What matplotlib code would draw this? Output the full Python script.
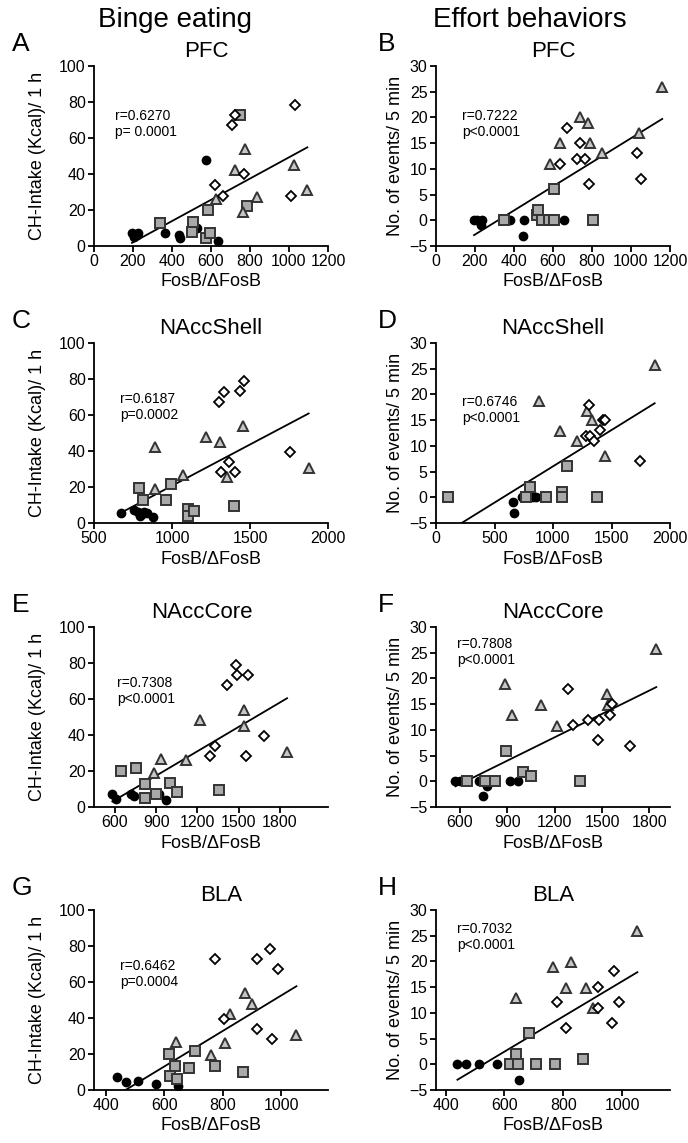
import matplotlib.pyplot as plt
import numpy as np

plt.rcParams['font.family'] = ['Liberation Sans', 'DejaVu Sans']

# ---------------- data ----------------
# A: PFC, binge eating
a_circ_x = [195, 205, 218, 228, 365, 435, 440, 530, 573, 638]
a_circ_y = [7, 5, 6, 7, 7, 6, 4.5, 10, 48, 3]
a_sq_x = [338, 500, 509, 573, 585, 593, 749, 783]
a_sq_y = [13, 8, 13.5, 4.5, 20, 7, 73, 22]
a_tri_x = [624, 721, 766, 773, 834, 1026, 1094]
a_tri_y = [26, 42, 19, 54, 27, 45, 31]
a_dia_x = [621, 663, 709, 721, 769, 1009, 1031]
a_dia_y = [34, 28, 67.5, 73, 40, 28, 78.5]

# B: PFC, effort
b_circ_x = [195, 210, 229, 238, 379, 453, 445, 655]
b_circ_y = [0, 0, -1, 0, 0, 0, -3, 0]
b_sq_x = [350, 517, 522, 545, 580, 605, 605, 803]
b_sq_y = [0, 1, 2, 0, 0, 0, 6, 0]
b_tri_x = [741, 778, 634, 790, 583, 850, 1040, 1160]
b_tri_y = [20, 19, 15, 15, 11, 13, 17, 26]
b_dia_x = [674, 738, 721, 764, 638, 784, 1031, 1052]
b_dia_y = [18, 15, 12, 12, 11, 7, 13, 8]

# C: NAccShell, binge eating
c_circ_x = [675, 754, 782, 797, 818, 840, 876, 808]
c_circ_y = [5.6, 7.1, 6.1, 3.7, 6.1, 5.6, 3.3, 4.8]
c_sq_x = [791, 812, 996, 962, 1100, 1100, 1143, 1395]
c_sq_y = [19.7, 13, 21.4, 12.7, 8, 3.9, 6.5, 9.5]
c_tri_x = [893, 893, 1070, 1220, 1310, 1453, 1353, 1876]
c_tri_y = [42.4, 18.8, 26.6, 48, 45.2, 54.1, 25.7, 30.3]
c_dia_x = [1299, 1331, 1434, 1459, 1368, 1316, 1406, 1759]
c_dia_y = [67.2, 72.7, 73.1, 78.7, 34, 28.1, 28.1, 39.3]

# D: NAccShell, effort
d_circ_x = [658, 667, 735, 829, 858]
d_circ_y = [-1, -3, 0, 0, 0]
d_sq_x = [103, 772, 800, 943, 1080, 1080, 1123, 1379]
d_sq_y = [0, 0, 2, 0, 1, 0, 6, 0]
d_tri_x = [877, 1057, 1208, 1293, 1333, 1442, 1869]
d_tri_y = [18.8, 12.8, 10.9, 16.8, 15, 8, 25.8]
d_dia_x = [1308, 1285, 1313, 1399, 1350, 1427, 1442, 1741]
d_dia_y = [18, 12, 12, 13, 11, 15, 15, 7]

# E: NAccCore, binge eating
e_circ_x = [581, 605, 714, 738, 920, 968]
e_circ_y = [7.4, 4.6, 7, 5.9, 7, 4]
e_sq_x = [646, 755, 815, 1000, 1048, 895, 815, 1360]
e_sq_y = [19.8, 21.9, 13, 13.5, 8.3, 7, 5.2, 9.6]
e_tri_x = [1542, 1542, 1217, 932, 883, 1113, 1852]
e_tri_y = [53.9, 45.2, 48.1, 26.9, 19.1, 25.9, 30.6]
e_dia_x = [1484, 1489, 1569, 1416, 1687, 1326, 1288, 1554]
e_dia_y = [78.7, 73.1, 73.1, 67.6, 39.4, 33.7, 28.3, 28.3]

# F: NAccCore, effort
f_circ_x = [572, 604, 720, 745, 772, 919, 967]
f_circ_y = [0, 0, 0, -2.8, -1, 0, 0]
f_sq_x = [646, 757, 820, 892, 999, 1051, 1360]
f_sq_y = [0, 0, 0, 5.9, 1.9, 1, 0]
f_tri_x = [883, 930, 1112, 1213, 1533, 1539, 1843]
f_tri_y = [18.9, 12.9, 14.8, 10.8, 16.9, 14.8, 25.8]
f_dia_x = [1283, 1318, 1413, 1482, 1549, 1560, 1476, 1680]
f_dia_y = [17.9, 10.9, 11.9, 11.9, 12.9, 15, 8, 6.9]

# G: BLA, binge eating
g_circ_x = [440, 470, 512, 573, 648]
g_circ_y = [7, 4.5, 5, 3.5, 2]
g_sq_x = [617, 620, 638, 645, 685, 706, 772, 868]
g_sq_y = [19.8, 8, 13.5, 6, 12, 21.7, 13.5, 10]
g_tri_x = [876, 899, 825, 640, 808, 760, 1052]
g_tri_y = [53.7, 47.8, 42.2, 26.9, 25.9, 19.4, 30.6]
g_dia_x = [774, 918, 961, 990, 806, 918, 970]
g_dia_y = [72.8, 72.8, 78.3, 67.2, 39.4, 33.9, 28.3]

# H: BLA, effort
h_circ_x = [440, 470, 512, 573, 648]
h_circ_y = [0, 0, 0, 0, -3]
h_sq_x = [685, 640, 620, 645, 707, 772, 868]
h_sq_y = [6.1, 2, 0, 0, 0, 0, 1]
h_tri_x = [640, 764, 825, 809, 877, 900, 1052]
h_tri_y = [12.9, 18.9, 19.9, 14.8, 14.8, 10.9, 25.9]
h_dia_x = [778, 809, 919, 919, 972, 990, 964]
h_dia_y = [12.1, 7, 15, 11, 18.1, 12.1, 8]

stats = ["r=0.6270\np= 0.0001", "r=0.7222\np<0.0001",
         "r=0.6187\np=0.0002", "r=0.6746\np<0.0001",
         "r=0.7308\np<0.0001", "r=0.7808\np<0.0001",
         "r=0.6462\np=0.0004", "r=0.7032\np<0.0001"]
regions = ["PFC", "PFC", "NAccShell", "NAccShell",
           "NAccCore", "NAccCore", "BLA", "BLA"]
letters = list("ABCDEFGH")

# ---------------- figure ----------------
W, H = 688, 1143
fig = plt.figure(figsize=(W / 100, H / 100), dpi=100)


def add_ax(x0, x1, y0, y1):
    return fig.add_axes([x0 / W, 1 - y1 / H, (x1 - x0) / W, (y1 - y0) / H])


cols = [(94, 328), (436, 670)]
rows = [(66, 246), (343, 523), (627, 807), (910, 1090)]

panels = [
    (a_circ_x, a_circ_y, a_sq_x, a_sq_y, a_tri_x, a_tri_y, a_dia_x, a_dia_y),
    (b_circ_x, b_circ_y, b_sq_x, b_sq_y, b_tri_x, b_tri_y, b_dia_x, b_dia_y),
    (c_circ_x, c_circ_y, c_sq_x, c_sq_y, c_tri_x, c_tri_y, c_dia_x, c_dia_y),
    (d_circ_x, d_circ_y, d_sq_x, d_sq_y, d_tri_x, d_tri_y, d_dia_x, d_dia_y),
    (e_circ_x, e_circ_y, e_sq_x, e_sq_y, e_tri_x, e_tri_y, e_dia_x, e_dia_y),
    (f_circ_x, f_circ_y, f_sq_x, f_sq_y, f_tri_x, f_tri_y, f_dia_x, f_dia_y),
    (g_circ_x, g_circ_y, g_sq_x, g_sq_y, g_tri_x, g_tri_y, g_dia_x, g_dia_y),
    (h_circ_x, h_circ_y, h_sq_x, h_sq_y, h_tri_x, h_tri_y, h_dia_x, h_dia_y),
]

xlims = [(0, 1200), (0, 1200), (500, 2000), (0, 2000),
         (447, 2150), (449, 1930), (360, 1160), (367, 1163)]
xticks = [np.arange(0, 1201, 200), np.arange(0, 1201, 200),
          [500, 1000, 1500, 2000], np.arange(0, 2001, 500),
          np.arange(600, 1801, 300), np.arange(600, 1801, 300),
          np.arange(400, 1001, 200), np.arange(400, 1001, 200)]
stat_pos = [(0.09, 0.76), (0.11, 0.76), (0.11, 0.73), (0.11, 0.71),
            (0.10, 0.73), (0.09, 0.945), (0.11, 0.73), (0.09, 0.935)]
title_x = [0.48, 0.5, 0.5, 0.5, 0.46, 0.5, 0.545, 0.5]

for i, pdata in enumerate(panels):
    cx, cy, sx, sy, tx, ty, dx, dy = pdata
    x0, x1 = cols[i % 2]
    y0, y1 = rows[i // 2]
    ax = add_ax(x0, x1, y0, y1)

    allx = np.concatenate([cx, sx, tx, dx])
    ally = np.concatenate([cy, sy, ty, dy])
    slope, icpt = np.polyfit(allx, ally, 1)
    lx = np.array([allx.min(), allx.max()])
    ax.plot(lx, slope * lx + icpt, color='black', lw=1.3, zorder=2)

    ax.plot(cx, cy, 'o', ms=6, color='black', mec='black', zorder=3)
    ax.plot(sx, sy, 's', ms=7, mfc='#a9a9a9', mec='#333333', mew=1.4, zorder=4)
    ax.plot(tx, ty, '^', ms=7.5, mfc='#c6c6c6', mec='#333333', mew=1.4, zorder=5)
    ax.plot(dx, dy, 'D', ms=5.5, mfc='white', mec='black', mew=1.3, zorder=6)

    ax.set_xlim(*xlims[i])
    ax.set_xticks(xticks[i])
    if i % 2 == 0:
        ax.set_ylim(0, 100)
        ax.set_yticks(np.arange(0, 101, 20))
        ax.set_ylabel('CH-Intake (Kcal)/ 1 h', fontsize=13)
        ax.yaxis.set_label_coords(-0.205, 0.5)
    else:
        ax.set_ylim(-5, 30)
        ax.set_yticks(np.arange(-5, 31, 5))
        ax.set_ylabel('No. of events/ 5 min', fontsize=13)
        ax.yaxis.set_label_coords(-0.135, 0.5)
    ax.set_xlabel('FosB/\u0394FosB', fontsize=13, labelpad=3)

    for side in ['top', 'right']:
        ax.spines[side].set_visible(False)
    for side in ['left', 'bottom']:
        ax.spines[side].set_linewidth(1.3)
    ax.tick_params(direction='out', length=4, width=1.3, labelsize=11.5, pad=2)

    ax.text(title_x[i], 1.02, regions[i], transform=ax.transAxes,
            ha='center', va='bottom', fontsize=16)
    ax.text(stat_pos[i][0], stat_pos[i][1], stats[i], transform=ax.transAxes,
            ha='left', va='top', fontsize=10, linespacing=1.2)

    lx_pix = 12 if i % 2 == 0 else 378
    fig.text(lx_pix / W, 1 - (y0 - 22) / H, letters[i], fontsize=19,
             ha='left', va='center')

fig.text(175 / W, 1 - 20 / H, 'Binge eating', fontsize=20, ha='center', va='center')
fig.text(530 / W, 1 - 20 / H, 'Effort behaviors', fontsize=20, ha='center', va='center')

fig.savefig('out.png', dpi=100)
